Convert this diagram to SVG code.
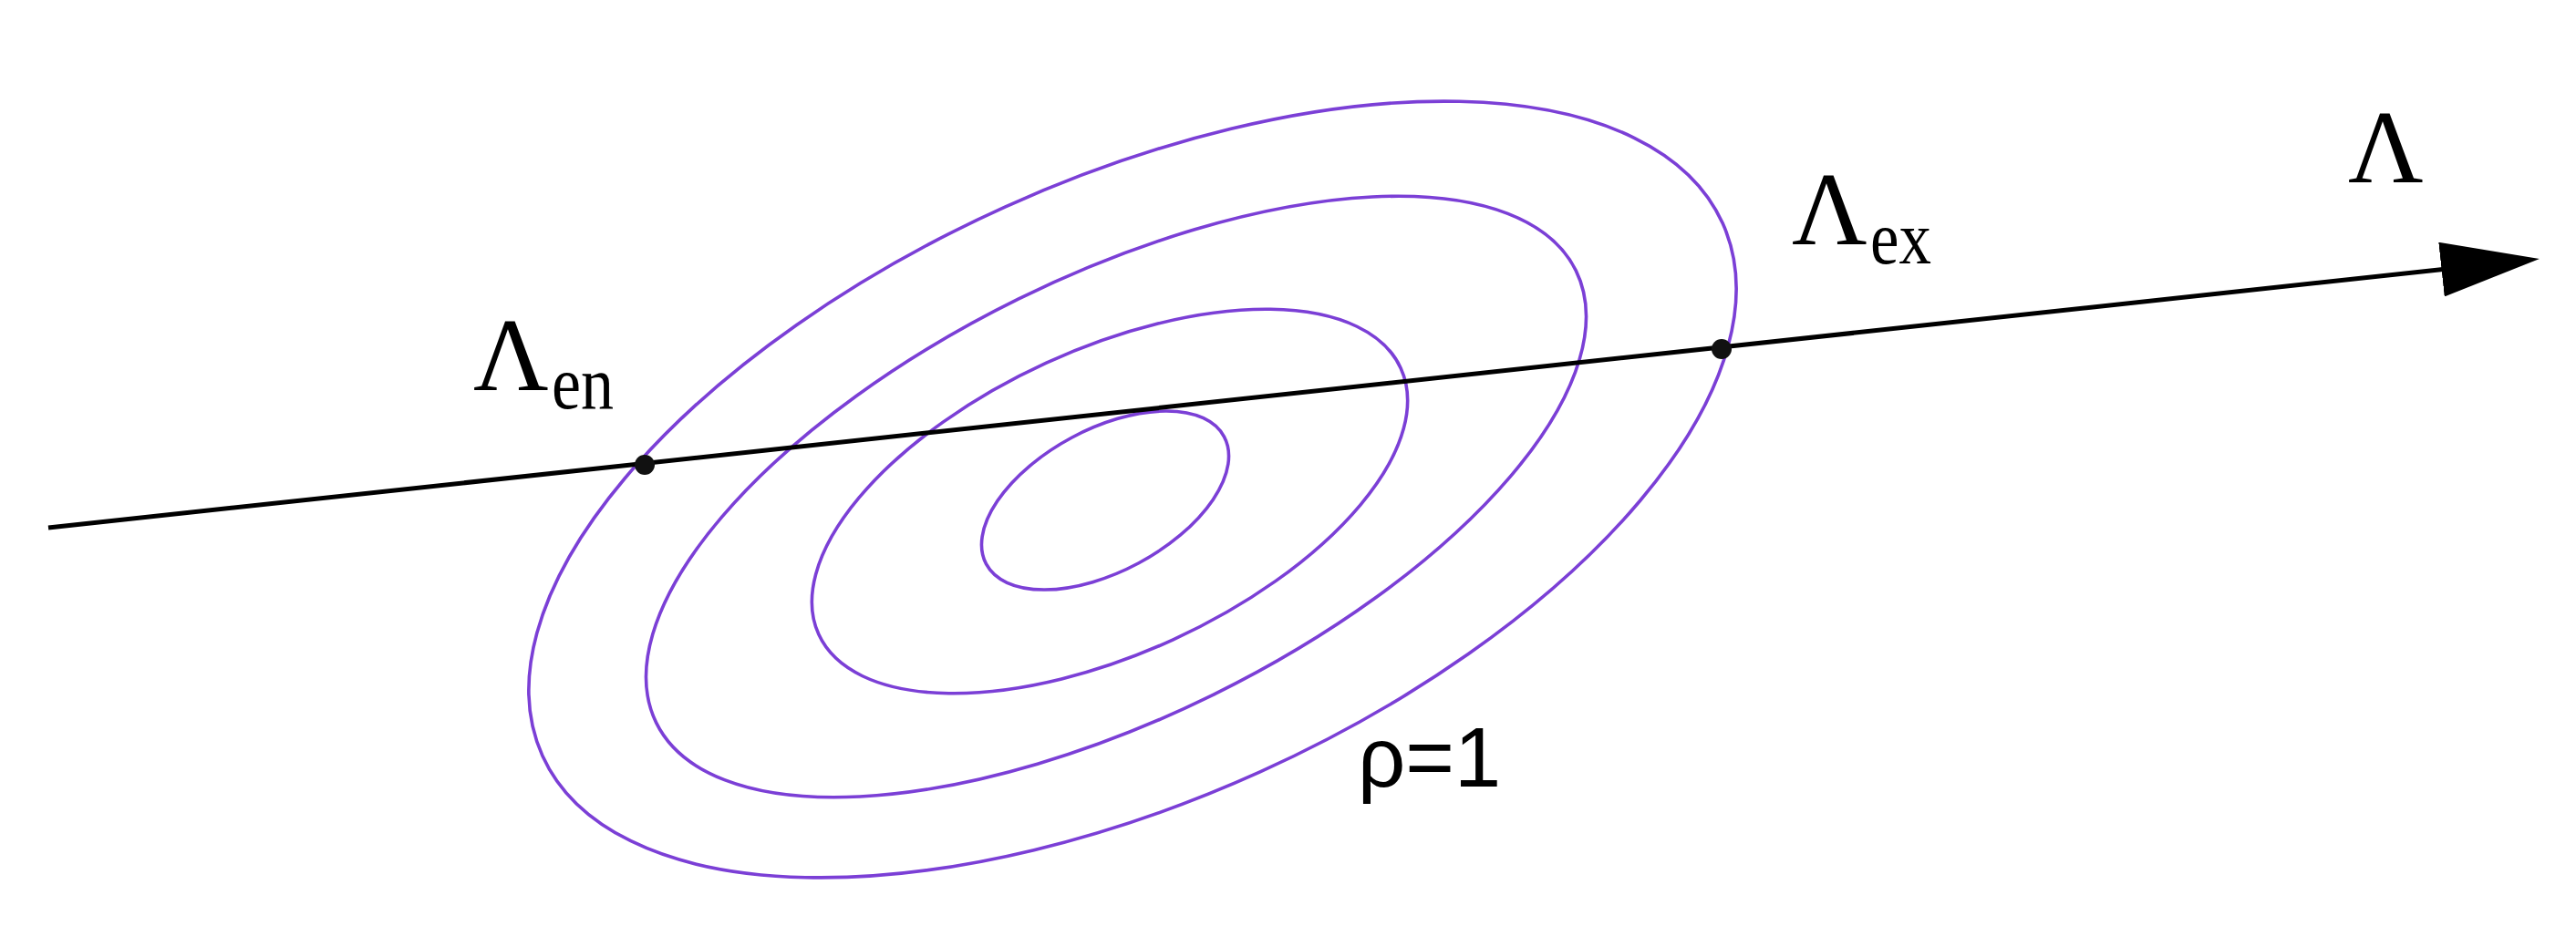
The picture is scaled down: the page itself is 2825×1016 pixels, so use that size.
<svg xmlns="http://www.w3.org/2000/svg" width="2825" height="1016" viewBox="0 0 2825 1016">
<style>
.contour{fill:none;stroke:#7b3fd6;stroke-width:3.6}
.axis{fill:none;stroke:#000;stroke-width:5}
.dot{fill:#111}
.serif{font-family:"Liberation Serif","Times New Roman",serif;fill:#000}
.sans{font-family:"Liberation Sans",Arial,sans-serif;fill:#000}
</style>
<defs>
<marker id="arrow" markerUnits="userSpaceOnUse" viewBox="0 -30 108 60" markerWidth="108" markerHeight="60" refX="88" refY="0" orient="auto">
<path d="M0,-30 L108,0 L0,30 Z" fill="#000"/>
</marker>
</defs>
<rect width="2825" height="1016" fill="#fff"/>
<g id="contours">
<ellipse id="rho1" class="contour" cx="1242" cy="537" rx="710" ry="340" transform="rotate(-24.3 1242 537)"/>
<ellipse id="contour2" class="contour" cx="1224" cy="545" rx="562" ry="242" transform="rotate(-26.2 1224 545)"/>
<ellipse id="contour3" class="contour" cx="1217" cy="550" rx="351" ry="167" transform="rotate(-24.6 1217 550)"/>
<ellipse id="contour4" class="contour" cx="1212" cy="549" rx="148" ry="78" transform="rotate(-28.2 1212 549)"/>
</g>
<g id="connectors">
<line class="axis" x1="53" y1="579" x2="2765" y2="286.2" marker-end="url(#arrow)"/>
</g>
<g id="entry-point">
<circle class="dot" cx="707" cy="510" r="11"/>
<text class="serif" x="519" y="428" font-size="114">Λ</text>
<text class="serif" x="605" y="448" font-size="82" textLength="68" lengthAdjust="spacingAndGlyphs">en</text>
</g>
<g id="exit-point">
<circle class="dot" cx="1888" cy="383" r="11"/>
<text class="serif" x="1965" y="268" font-size="114">Λ</text>
<text class="serif" x="2051" y="289" font-size="82" textLength="67" lengthAdjust="spacingAndGlyphs">ex</text>
</g>
<g id="axis-label">
<text class="serif" x="2575" y="200" font-size="114">Λ</text>
</g>
<g id="rho-label">
<text class="sans" x="1489" y="863" font-size="92">ρ=1</text>
</g>
</svg>
